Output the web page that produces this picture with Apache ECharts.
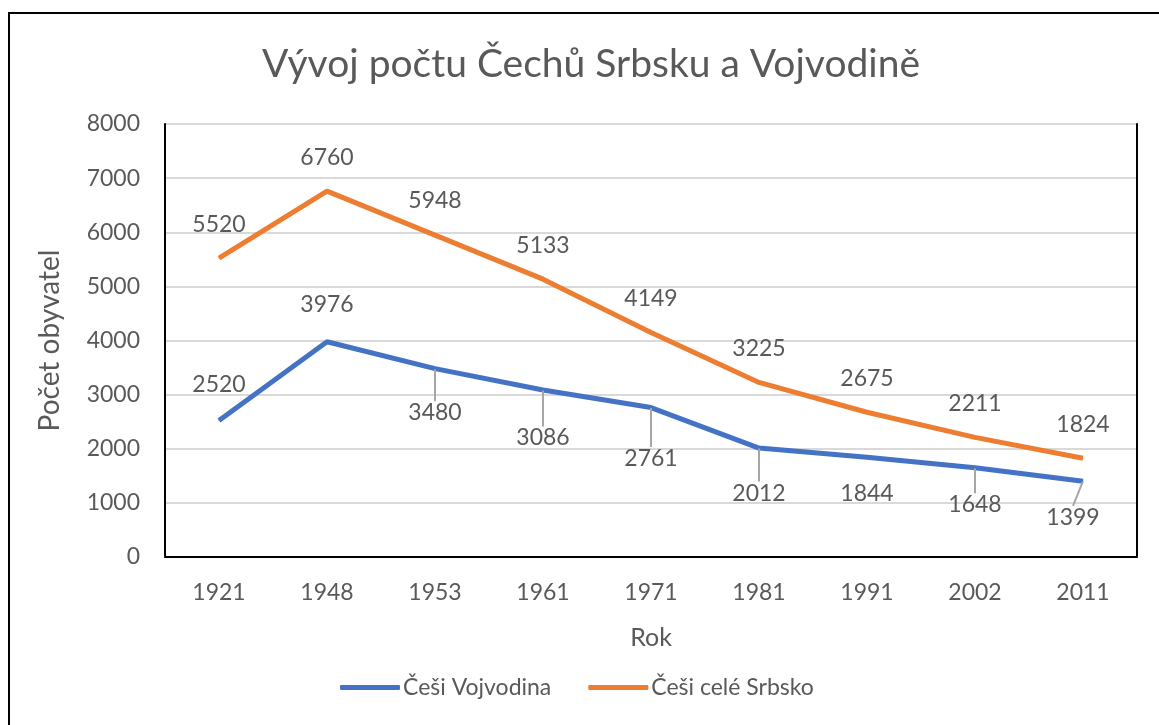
<!DOCTYPE html>
<html><head><meta charset="utf-8">
<script src="https://cdn.jsdelivr.net/npm/echarts@6/dist/echarts.min.js"></script>
<style>html,body{margin:0;padding:0;background:#fff}#c{width:1159px;height:725px}</style>
</head><body><div id="c"></div>
<script>
const years = ['1921','1948','1953','1961','1971','1981','1991','2002','2011'];
const vojvodina = [2520, 3976, 3480, 3086, 2761, 2012, 1844, 1648, 1399];
const srbsko = [5520, 6760, 5948, 5133, 4149, 3225, 2675, 2211, 1824];
const yTicks = [0, 1000, 2000, 3000, 4000, 5000, 6000, 7000, 8000];
// label placement for blue series: 'line' = below with leader line, 'plain' = below, 'top' = above
const blueLabelMode = ['top', 'top', 'line', 'line', 'line', 'line', 'plain', 'line', 'line'];
// extra manual label shifts (pixels) for blue labels, as moved in the original
const blueLabelShift = [[0, 2], [0, 3], [0, 10], [0, 14], [0, 17], [0, 11], [0, 2], [0, 3], [-10, 2]];

const FONT = 'Lato';
const TXT = '#595959';
const chart = echarts.init(document.getElementById('c'));
chart.setOption({
  animation: false,
  textStyle: {fontFamily: FONT},
  title: {text: 'Vývoj počtu Čechů Srbsku a Vojvodině', left: 257, top: 40,
    textStyle: {fontFamily: FONT, fontSize: 39, fontWeight: 'normal', color: TXT}},
  graphic: [{type: 'rect', shape: {x: 9, y: 13, width: 1200, height: 800}, silent: true,
    style: {fill: 'none', stroke: '#000', lineWidth: 2}}],
  grid: {left: 165, right: 22, top: 124, bottom: 168},
  legend: {top: 671, left: 335, itemWidth: 60, itemHeight: 5, itemGap: 37,
    icon: 'roundRect',
    textStyle: {fontFamily: FONT, fontSize: 23, color: TXT, padding: [0, 0, 0, -2]},
    data: ['Češi Vojvodina', 'Češi celé Srbsko']},
  xAxis: [{type: 'category', data: years, boundaryGap: true,
    name: 'Rok', nameLocation: 'middle', nameGap: 68,
    nameTextStyle: {fontFamily: FONT, fontSize: 25, color: TXT},
    axisLine: {lineStyle: {color: '#d9d9d9', width: 2}},
    axisTick: {show: false},
    axisLabel: {fontFamily: FONT, fontSize: 23, color: TXT, margin: 24}},
    {type: 'category', data: years, position: 'top', boundaryGap: true,
    axisLine: {lineStyle: {color: '#000', width: 2}}, axisTick: {show: false}, axisLabel: {show: false}}],
  yAxis: [{type: 'value', min: yTicks[0], max: yTicks[yTicks.length-1], interval: 1000,
    name: 'Počet obyvatel', nameLocation: 'middle', nameGap: 101, nameRotate: 90,
    nameTextStyle: {fontFamily: FONT, fontSize: 28, color: TXT},
    axisLine: {show: true, lineStyle: {color: '#000', width: 2}}, axisTick: {show: false},
    splitLine: {lineStyle: {color: '#d9d9d9', width: 2}},
    axisLabel: {fontFamily: FONT, fontSize: 23, color: TXT, margin: 25, formatter: v => String(v)}},
    {type: 'value', min: yTicks[0], max: yTicks[yTicks.length-1], interval: 1000, position: 'right',
    axisLine: {show: true, lineStyle: {color: '#000', width: 2}}, axisTick: {show: false},
    axisLabel: {show: false}, splitLine: {show: false}}],
  series: [
    {name: 'Češi Vojvodina', type: 'line', z: 3, data: vojvodina.map((v, i) => {
        const m = blueLabelMode[i];
        if (m === 'line') return {value: v, label: {position: 'bottom', distance: 22}, labelLine: {show: true}};
        if (m === 'plain') return {value: v, label: {position: 'bottom', distance: 22}};
        return {value: v, label: {position: 'top', distance: 22}};
      }),
      symbol: 'circle', symbolSize: 1, showSymbol: true,
      lineStyle: {color: '#4472C4', width: 5}, itemStyle: {color: '#4472C4'},
      label: {show: true, fontFamily: FONT, fontSize: 23, color: TXT},
      labelLayout: (p) => {
        const s = blueLabelShift[p.dataIndex];
        const dy = blueLabelMode[p.dataIndex] === 'top' ? -s[1] : s[1];
        return {dx: s[0], dy: dy};
      },
      labelLine: {show: false, lineStyle: {color: '#a6a6a6', width: 2}}},
    {name: 'Češi celé Srbsko', type: 'line', z: 2, data: srbsko,
      symbol: 'circle', symbolSize: 1, showSymbol: true,
      lineStyle: {color: '#ED7D31', width: 5}, itemStyle: {color: '#ED7D31'},
      label: {show: true, position: 'top', distance: 22, fontFamily: FONT, fontSize: 23, color: TXT}}
  ]
});
</script></body></html>
